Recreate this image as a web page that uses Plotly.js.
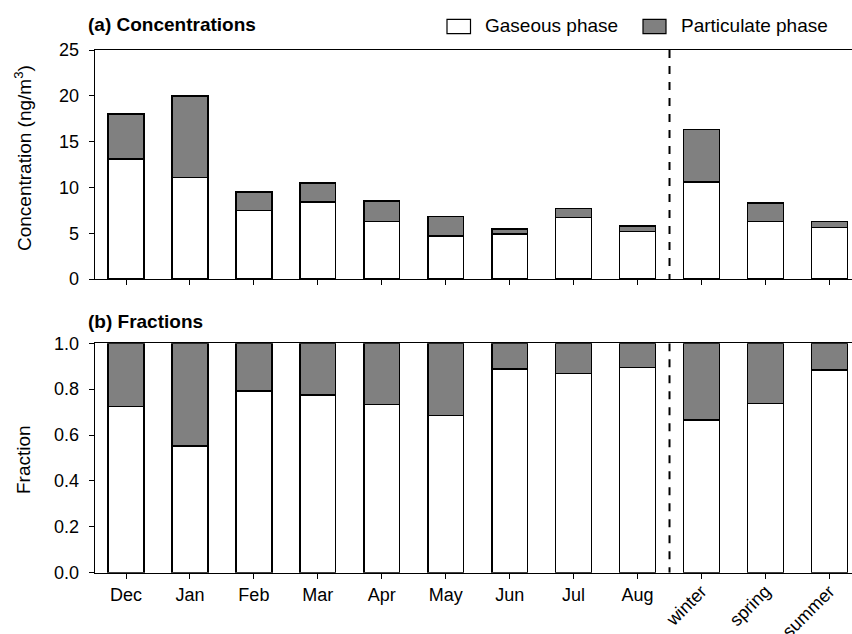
<!DOCTYPE html>
<html>
<head>
<meta charset="utf-8">
<script src="https://cdn.plot.ly/plotly-3.0.1.min.js"></script>
<style>
  html, body { margin: 0; padding: 0; background: #fff; }
  #chart { width: 852px; height: 634px; }
</style>
</head>
<body>
<div id="chart"></div>
<script>
// Sampling periods: monthly means followed by seasonal means
const categories = ['Dec', 'Jan', 'Feb', 'Mar', 'Apr', 'May', 'Jun', 'Jul', 'Aug', 'winter', 'spring', 'summer'];
const monthLabels = ['Dec', 'Jan', 'Feb', 'Mar', 'Apr', 'May', 'Jun', 'Jul', 'Aug'];
const seasonLabels = ['winter', 'spring', 'summer'];

// (a) concentrations, ng/m3
const gaseousConc = [13.1, 11.1, 7.5, 8.4, 6.3, 4.7, 4.9, 6.7, 5.2, 10.6, 6.3, 5.6];
const particulateConc = [4.9, 8.9, 2.0, 2.1, 2.2, 2.1, 0.55, 1.0, 0.6, 5.7, 2.0, 0.7];

// (b) phase fractions
const gaseousFrac = [0.724, 0.552, 0.791, 0.775, 0.734, 0.686, 0.889, 0.868, 0.894, 0.666, 0.738, 0.884];
const particulateFrac = [0.276, 0.448, 0.209, 0.225, 0.266, 0.314, 0.111, 0.132, 0.106, 0.334, 0.262, 0.116];

const W = 852, H = 634, ML = 95;
const px = p => (p - ML) / (W - ML);   // pixel -> paper x
const py = p => 1 - p / H;             // pixel -> paper y

const FONT = 'Liberation Sans, Arial, sans-serif';
const BAR_W = 0.56;
const GREY = '#808080';
const outline = { color: '#000', width: 1.5 };

function bar(x, y, fill, xa, ya) {
  return {
    type: 'bar', x: x, y: y, xaxis: xa, yaxis: ya, width: BAR_W,
    marker: { color: fill, line: outline },
    showlegend: false, hoverinfo: 'skip'
  };
}

// positions of the seasonal columns on the shared index scale
const seasonIdx = seasonLabels.map(s => categories.indexOf(s));

const data = [
  bar(categories, gaseousConc, '#ffffff', 'x', 'y'),
  bar(categories, particulateConc, GREY, 'x', 'y'),
  bar(categories, gaseousFrac, '#ffffff', 'x2', 'y2'),
  bar(categories, particulateFrac, GREY, 'x2', 'y2'),
  // carrier for the slanted seasonal tick axis (draws nothing itself)
  { type: 'scatter', mode: 'none', x: seasonIdx, y: seasonIdx.map(() => 0),
    xaxis: 'x3', yaxis: 'y2', showlegend: false, hoverinfo: 'skip' }
];

const xRange = [-0.485, 11.354];
const commonX = {
  type: 'category', range: xRange, showline: true, linecolor: '#000', linewidth: 1.3,
  mirror: true, ticks: 'outside', ticklen: 5, tickwidth: 1, tickcolor: '#000',
  showgrid: false, zeroline: false, fixedrange: true
};
const commonY = {
  showline: true, linecolor: '#000', linewidth: 1.3, ticks: 'outside', ticklen: 5,
  tickwidth: 1, tickcolor: '#000', showgrid: false, zeroline: false, fixedrange: true,
  tickfont: { family: FONT, size: 18, color: '#000' }, ticklabelstandoff: 6
};

const layout = {
  width: W, height: H,
  margin: { l: ML, r: 0, t: 0, b: 0 },
  paper_bgcolor: '#fff', plot_bgcolor: '#fff',
  barmode: 'stack',
  showlegend: false,
  font: { family: FONT, color: '#000' },
  xaxis: Object.assign({}, commonX, { domain: [0, 1], anchor: 'y', showticklabels: false }),
  yaxis: Object.assign({}, commonY, { domain: [py(279), py(50)], anchor: 'x', range: [0, 25], dtick: 5 }),
  xaxis2: Object.assign({}, commonX, {
    domain: [0, 1], anchor: 'y2', tickmode: 'array', tickvals: monthLabels, ticktext: monthLabels,
    tickfont: { family: FONT, size: 18, color: '#000' }, ticklabelstandoff: 0
  }),
  // seasonal columns: ticks with slanted labels
  xaxis3: {
    type: 'linear', overlaying: 'x2', anchor: 'y2', side: 'bottom', range: xRange, tickmode: 'array',
    tickvals: seasonIdx, ticktext: seasonLabels, tickangle: -45,
    tickfont: { family: FONT, size: 18, color: '#000' }, ticklabelstandoff: -5,
    ticks: 'outside', ticklen: 5, tickwidth: 1, tickcolor: '#000',
    showline: false, showgrid: false, zeroline: false, fixedrange: true
  },
  yaxis2: Object.assign({}, commonY, {
    domain: [py(572.7), py(343.3)], anchor: 'x2', range: [0, 1], dtick: 0.2, tickformat: '.1f'
  }),
  shapes: [
    // divider between monthly and seasonal means
    { type: 'line', xref: 'x', yref: 'y', x0: 8.5, x1: 8.5, y0: 25, y1: 0,
      line: { color: '#000', width: 2, dash: '8px,8px' } },
    { type: 'line', xref: 'x2', yref: 'y2', x0: 8.5, x1: 8.5, y0: 1, y1: 0,
      line: { color: '#000', width: 2, dash: '8px,8px' } },
    // legend swatches
    { type: 'rect', xref: 'paper', yref: 'paper', x0: px(447), x1: px(470.5), y0: py(33.7), y1: py(19.3),
      fillcolor: '#ffffff', line: { color: '#000', width: 1.2 } },
    { type: 'rect', xref: 'paper', yref: 'paper', x0: px(643), x1: px(666), y0: py(33.7), y1: py(19.3),
      fillcolor: GREY, line: { color: '#000', width: 1.2 } }
  ],
  annotations: [
    { text: '<b>(a) Concentrations</b>', xref: 'paper', yref: 'paper', x: px(86), y: py(24.5),
      xanchor: 'left', yanchor: 'middle', showarrow: false, font: { family: FONT, size: 19, color: '#000' } },
    { text: '<b>(b) Fractions</b>', xref: 'paper', yref: 'paper', x: px(86), y: py(321),
      xanchor: 'left', yanchor: 'middle', showarrow: false, font: { family: FONT, size: 19, color: '#000' } },
    { text: 'Gaseous phase', xref: 'paper', yref: 'paper', x: px(483), y: py(25.5),
      xanchor: 'left', yanchor: 'middle', showarrow: false, font: { family: FONT, size: 19, color: '#000' } },
    { text: 'Particulate phase', xref: 'paper', yref: 'paper', x: px(679), y: py(25.5),
      xanchor: 'left', yanchor: 'middle', showarrow: false, font: { family: FONT, size: 19, color: '#000' } },
    { text: 'Concentration (ng/m<sup>3</sup>)', xref: 'paper', yref: 'paper', x: px(23), y: py(158),
      xanchor: 'center', yanchor: 'middle', textangle: -90, showarrow: false,
      font: { family: FONT, size: 19, color: '#000' } },
    { text: 'Fraction', xref: 'paper', yref: 'paper', x: px(23), y: py(460),
      xanchor: 'center', yanchor: 'middle', textangle: -90, showarrow: false,
      font: { family: FONT, size: 19, color: '#000' } }
  ]
};

Plotly.newPlot('chart', data, layout, { displayModeBar: false, staticPlot: true });
</script>
</body>
</html>
